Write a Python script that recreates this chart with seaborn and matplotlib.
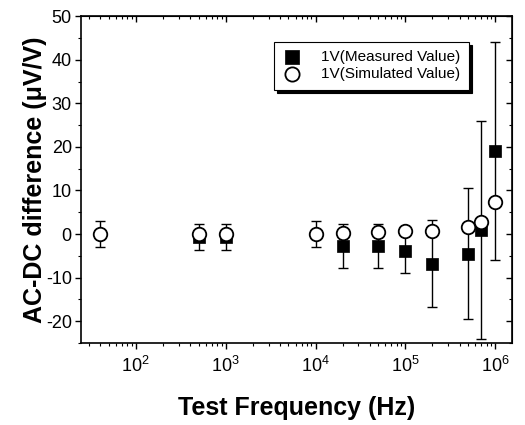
import numpy as np
import pandas as pd
import matplotlib
matplotlib.use("Agg")
import matplotlib.pyplot as plt
from matplotlib.ticker import LogLocator, MultipleLocator, NullFormatter
import seaborn as sns

# Measured AC-DC difference at 1 V
freq_meas = [500, 1000, 2e4, 5e4, 1e5, 2e5, 5e5, 7e5, 1e6]
diff_meas = [-0.6, -0.6, -2.7, -2.8, -4.0, -6.8, -4.5, 1.0, 19.1]
err_meas = [3, 3, 5, 5, 5, 10, 15, 25, 25]

# Simulated AC-DC difference at 1 V
freq_sim = [40, 500, 1000, 1e4, 2e4, 5e4, 1e5, 2e5, 5e5, 7e5, 1e6]
diff_sim = [0.0, 0.0, 0.0, 0.0, 0.3, 0.5, 0.7, 0.8, 1.5, 2.8, 7.3]
err_sim = [3, 0, 0, 3, 0, 0, 0, 0, 0, 0, 0]

label_meas = "1V(Measured Value)"
label_sim = "1V(Simulated Value)"

sns.set_style("ticks")
plt.rcParams["font.family"] = ["Liberation Sans", "DejaVu Sans"]
plt.rcParams["mathtext.fontset"] = "custom"
plt.rcParams["mathtext.rm"] = "Liberation Sans"
plt.rcParams["axes.unicode_minus"] = False
for key in ["text.color", "axes.labelcolor", "xtick.color", "ytick.color", "axes.edgecolor"]:
    plt.rcParams[key] = "black"

df_meas = pd.DataFrame({"freq": freq_meas, "diff": diff_meas, "err": err_meas})
df_sim = pd.DataFrame({"freq": freq_sim, "diff": diff_sim, "err": err_sim})

fig = plt.figure(figsize=(5.25, 4.25), dpi=100)
ax = fig.add_axes([0.154, 0.193, 0.821, 0.769])

# error bars
ax.errorbar(df_meas["freq"], df_meas["diff"], yerr=df_meas["err"], fmt="none",
            ecolor="black", elinewidth=1.0, capsize=3.5, capthick=1.0, zorder=2)
sim_e = df_sim[df_sim["err"] > 0]
ax.errorbar(sim_e["freq"], sim_e["diff"], yerr=sim_e["err"], fmt="none",
            ecolor="black", elinewidth=1.0, capsize=3.5, capthick=1.0, zorder=2)

sns.scatterplot(data=df_meas, x="freq", y="diff", ax=ax, marker="s", s=80,
                color="black", edgecolor="black", linewidth=0.5,
                label=label_meas, zorder=3)
sns.scatterplot(data=df_sim, x="freq", y="diff", ax=ax, marker="o", s=95,
                facecolor="white", edgecolor="black", linewidth=1.3,
                label=label_sim, zorder=4)

ax.set_xscale("log")
ax.set_xlim(24.5, 1.53e6)
ax.set_ylim(-25, 50)

ax.yaxis.set_major_locator(MultipleLocator(10))
ax.yaxis.set_minor_locator(MultipleLocator(5))
ax.xaxis.set_major_locator(LogLocator(base=10, numticks=10))
ax.xaxis.set_minor_locator(LogLocator(base=10, subs=np.arange(2, 10), numticks=10))
ax.xaxis.set_minor_formatter(NullFormatter())

for side in ["top", "right", "left", "bottom"]:
    ax.spines[side].set_visible(True)
    ax.spines[side].set_linewidth(1.2)
    ax.spines[side].set_color("black")

ax.tick_params(axis="both", which="major", direction="out", length=4.5, width=1.0,
               labelsize=13, colors="black", pad=2)
ax.tick_params(axis="x", which="major", pad=5)
ax.tick_params(axis="both", which="minor", direction="out", length=2.5, width=0.8)

# mirrored inward ticks on top and right
secx = ax.secondary_xaxis("top")
secx.tick_params(axis="x", which="major", direction="in", length=4.5, width=1.0,
                 labeltop=False)
secx.tick_params(axis="x", which="minor", direction="in", length=2.5, width=0.8)
secx.xaxis.set_major_locator(LogLocator(base=10, numticks=10))
secx.xaxis.set_minor_locator(LogLocator(base=10, subs=np.arange(2, 10), numticks=10))
secx.xaxis.set_major_formatter(NullFormatter())
secx.xaxis.set_minor_formatter(NullFormatter())

secy = ax.secondary_yaxis("right")
secy.tick_params(axis="y", which="major", direction="in", length=4.5, width=1.0,
                 labelright=False)
secy.tick_params(axis="y", which="minor", direction="in", length=2.5, width=0.8)
secy.yaxis.set_major_locator(MultipleLocator(10))
secy.yaxis.set_minor_locator(MultipleLocator(5))
secy.yaxis.set_major_formatter(NullFormatter())

ax.set_xlabel("Test Frequency (Hz)", fontsize=18, fontweight="bold", labelpad=14)
ax.set_ylabel("AC-DC difference (\u03bcV/V)", fontsize=18, fontweight="bold", labelpad=-1)

leg = ax.legend(loc="upper left", bbox_to_anchor=(0.448, 0.922), borderaxespad=0,
                frameon=True, fancybox=False, fontsize=11, handletextpad=1.25,
                borderpad=0.55, labelspacing=0.2, handlelength=1.3, markerscale=1.05,
                shadow={"ox": 2.5, "oy": -2.5, "facecolor": "black", "edgecolor": "black", "alpha": 1})
leg.get_frame().set_edgecolor("black")
leg.get_frame().set_linewidth(0.8)

fig.savefig("out.png", dpi=100)
